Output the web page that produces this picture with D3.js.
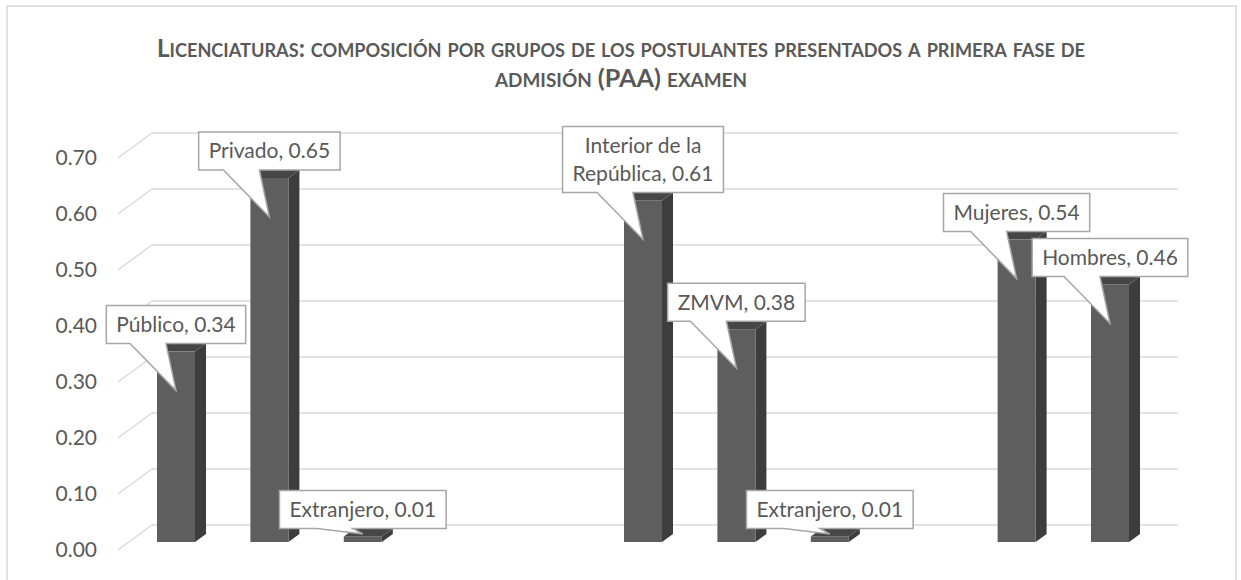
<!DOCTYPE html>
<html>
<head>
<meta charset="utf-8">
<script src="https://cdn.jsdelivr.net/npm/d3@7"></script>
<style>
  body { margin: 0; background: #fff; }
  text { font-family: Lato, "Open Sans", sans-serif; }
</style>
</head>
<body>
<svg id="chart"></svg>
<script>
// Bar slots from left to right; empty slots keep the gaps between groups
const slotNames = ["Público", "Privado", "Extranjero", "", "", "Interior de la República", "ZMVM", "Extranjero", "", "Mujeres", "Hombres"];
const slotValues = [0.34, 0.65, 0.01, null, null, 0.61, 0.38, 0.01, null, 0.54, 0.46];
const yTicks = [0, 0.1, 0.2, 0.3, 0.4, 0.5, 0.6, 0.7];
const titleLines = ["Licenciaturas: composición por grupos de los postulantes presentados a primera fase de", "admisión (PAA) examen"];

const W = 1241, H = 580;
const svg = d3.select("#chart").attr("width", W).attr("height", H);
const fmt = d3.format(".2f");

// chart frame
svg.append("rect")
    .attr("x", 7).attr("y", 6)
    .attr("width", 1229).attr("height", 600)
    .attr("fill", "#fff")
    .attr("stroke", "#d9d9d9").attr("stroke-width", 1.5);

// title, small caps built by hand: lowercase runs drawn as smaller capitals
function capsRuns(s) {
    const runs = [];
    for (const ch of s) {
        const small = ch !== ch.toUpperCase();
        const last = runs[runs.length - 1];
        if (last && last.small === small) last.text += ch;
        else runs.push({ small, text: ch });
    }
    return runs;
}

const titleWidths = [928, 252];
const title = svg.append("g")
  .selectAll("text")
  .data(titleLines)
  .join("text")
    .attr("x", 621)
    .attr("y", (d, i) => 57 + i * 30)
    .attr("text-anchor", "middle")
    .attr("textLength", (d, i) => titleWidths[i])
    .attr("lengthAdjust", "spacingAndGlyphs")
    .style("font-weight", "bold")
    .attr("fill", "#595959");

title.selectAll("tspan")
  .data(d => capsRuns(d))
  .join("tspan")
    .style("font-size", r => r.small ? "18px" : "24px")
    .text(r => r.text.toUpperCase());

// scales
const x = d3.scaleBand()
    .domain(d3.range(slotNames.length))
    .range([129.3, 1156.7])
    .paddingInner(0.593)
    .paddingOuter(0.2965);

const y = d3.scaleLinear()
    .domain([0, 0.7])
    .range([542, 150]);

// 3d offsets
const wallLeft = 152, wallRight = 1178, wallDx = 34, wallBack = -17, wallFront = 8;
const depthX = 11, depthY = 8;

// gridlines: side wall diagonal + back wall line
const grid = svg.append("g")
    .attr("stroke", "#d9d9d9")
    .attr("stroke-width", 1.5)
    .attr("fill", "none");

grid.selectAll("path")
  .data(yTicks)
  .join("path")
    .attr("d", d => `M${wallLeft - wallDx},${y(d) + wallFront}L${wallLeft},${y(d) + wallBack}L${wallRight},${y(d) + wallBack}`);

// tick labels
svg.append("g")
  .selectAll("text")
  .data(yTicks)
  .join("text")
    .attr("x", 97)
    .attr("y", d => y(d) + wallFront)
    .attr("dy", "0.35em")
    .attr("text-anchor", "end")
    .attr("fill", "#595959")
    .style("font-size", "21px")
    .text(d => fmt(d));

// bars
const bars = slotValues
    .map((v, i) => ({ i, name: slotNames[i], value: v }))
    .filter(d => d.value != null);

const barG = svg.append("g")
  .selectAll("g")
  .data(bars)
  .join("g");

const bw = x.bandwidth();

barG.append("path") // side face
    .attr("fill", "#3d3d3d")
    .attr("d", d => {
        const x1 = x(d.i) + bw, yt = y(d.value), yb = y(0);
        return `M${x1},${yt}L${x1 + depthX},${yt - depthY}L${x1 + depthX},${yb - depthY}L${x1},${yb}Z`;
    });

barG.append("path") // top face
    .attr("fill", "#464646")
    .attr("d", d => {
        const x0 = x(d.i), yt = y(d.value);
        return `M${x0},${yt}L${x0 + depthX},${yt - depthY}L${x0 + bw + depthX},${yt - depthY}L${x0 + bw},${yt}Z`;
    });

barG.append("rect") // front face
    .attr("fill", "#5e5e5e")
    .attr("x", d => x(d.i))
    .attr("y", d => y(d.value))
    .attr("width", bw)
    .attr("height", d => y(0) - y(d.value));

// data callouts
const callG = svg.append("g");
const lineH = 28, padX = 10, maxW = 180;

bars.forEach(d => {
    const g = callG.append("g");
    const label = `${d.name}, ${fmt(d.value)}`;
    const words = label.split(" ");
    const txt = g.append("text")
        .attr("fill", "#595959")
        .attr("text-anchor", "middle")
        .style("font-size", "21px");

    // greedy word wrap
    const lines = [];
    let cur = [];
    const probe = txt.append("tspan");
    words.forEach(w => {
        const test = cur.concat(w).join(" ");
        probe.text(test);
        if (probe.node().getComputedTextLength() > maxW && cur.length) {
            lines.push(cur.join(" "));
            cur = [w];
        } else {
            cur.push(w);
        }
    });
    lines.push(cur.join(" "));
    probe.remove();

    const widths = lines.map(l => {
        const t = txt.append("tspan").text(l);
        const w = t.node().getComputedTextLength();
        t.remove();
        return w;
    });
    const boxW = d3.max(widths) + padX * 2;
    const boxH = lines.length * lineH + 10;

    const cx = x(d.i) + bw / 2;
    const top = y(d.value);
    const tipY = Math.min(top + 39, y(0) - 8);
    const boxBottom = top - 8;
    const boxTop = boxBottom - boxH;

    g.insert("path", "text")
        .attr("fill", "#fff")
        .attr("stroke", "#a6a6a6")
        .attr("stroke-width", 1.5)
        .attr("d", `M${cx - boxW / 2},${boxTop}H${cx + boxW / 2}V${boxBottom}H${cx - 10}L${cx},${tipY}L${cx - 46},${boxBottom}H${cx - boxW / 2}Z`);

    txt.selectAll("tspan")
      .data(lines)
      .join("tspan")
        .attr("x", cx)
        .attr("y", (l, k) => boxTop + 5 + lineH * k + lineH / 2)
        .attr("dy", "0.35em")
        .text(l => l);
});
</script>
</body>
</html>
